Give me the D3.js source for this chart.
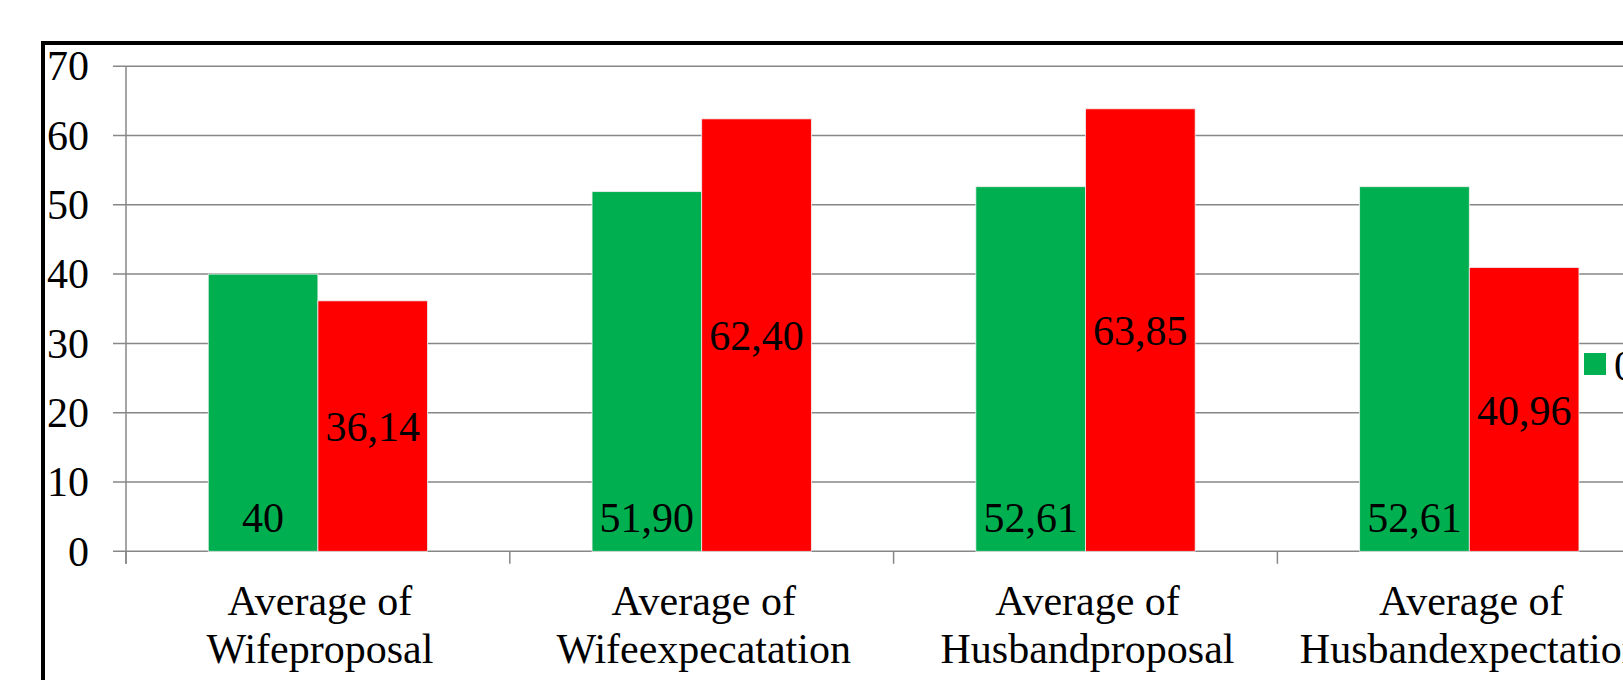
<!DOCTYPE html>
<html>
<head>
<meta charset="utf-8">
<script src="https://cdn.jsdelivr.net/npm/d3@7"></script>
<style>
  html, body { margin: 0; padding: 0; background: #fff; overflow: hidden; }
  svg { display: block; }
  text { font-family: "Liberation Serif", "Times New Roman", serif; fill: #000; }
</style>
</head>
<body>
<svg id="chart" width="1623" height="680"></svg>
<script>
// ---- data ----
const categories = [
  ["Average of", "Wifeproposal"],
  ["Average of", "Wifeexpecatation"],
  ["Average of", "Husbandproposal"],
  ["Average of", "Husbandexpectation"]
];
const seriesNames = ["0", "1"];
const series0 = [40, 51.90, 52.61, 52.61];
const series1 = [36.14, 62.40, 63.85, 40.96];
const series0Labels = ["40", "51,90", "52,61", "52,61"];
const series1Labels = ["36,14", "62,40", "63,85", "40,96"];
const yTicks = [0, 10, 20, 30, 40, 50, 60, 70];
const colors = ["#00B050", "#FF0000"];

// ---- layout ----
const svg = d3.select("#chart");
const W = 1623, H = 680;
const plotLeft = 126, y0px = 551.3, y70px = 66.2;
const step = 383.8;
const FS = 42;

const catIdx = categories.map((d, i) => i);
const x0 = d3.scaleBand().domain(catIdx).range([plotLeft, plotLeft + step * categories.length]).paddingInner(0).paddingOuter(0);
const x1 = d3.scaleBand().domain([0, 1]).range([0, x0.bandwidth()]).paddingInner(0).paddingOuter(0.75);
const y = d3.scaleLinear().domain([0, 70]).range([y0px, y70px]);

// outer border (chart area, cropped)
svg.append("rect")
  .attr("x", 43).attr("y", 43)
  .attr("width", W).attr("height", H)
  .attr("fill", "none").attr("stroke", "#000").attr("stroke-width", 4);

// gridlines
const gridColor = "#878787";
svg.append("g").selectAll("line").data(yTicks).join("line")
  .attr("x1", plotLeft - 13).attr("x2", W)
  .attr("y1", d => y(d)).attr("y2", d => y(d))
  .attr("stroke", gridColor).attr("stroke-width", 1.5);

// y axis line
svg.append("line")
  .attr("x1", plotLeft).attr("x2", plotLeft)
  .attr("y1", y(70)).attr("y2", y(0) + 12.5)
  .attr("stroke", gridColor).attr("stroke-width", 1.5);

// x tick marks at category boundaries
const boundaries = d3.range(categories.length + 1).map(i => plotLeft + i * x0.step());
svg.append("g").selectAll("line").data(boundaries).join("line")
  .attr("x1", d => d).attr("x2", d => d)
  .attr("y1", y(0)).attr("y2", y(0) + 12.5)
  .attr("stroke", gridColor).attr("stroke-width", 1.5);

// y tick labels
svg.append("g").selectAll("text").data(yTicks).join("text")
  .attr("x", 89).attr("y", d => y(d))
  .attr("dy", "0.34em")
  .attr("text-anchor", "end")
  .attr("font-size", FS)
  .text(d => d);

// bars
const seriesData = [series0, series1];
const barG = svg.append("g");
seriesData.forEach((vals, s) => {
  barG.selectAll(null).data(vals).join("rect")
    .attr("x", (d, i) => x0(i) + x1(s))
    .attr("y", d => y(d))
    .attr("width", x1.bandwidth())
    .attr("height", d => y(0) - y(d))
    .attr("fill", colors[s])
    .attr("stroke", "#f0f0f0").attr("stroke-width", 0.8);
});

// data labels: series 0 inside base, series 1 centered
svg.append("g").selectAll("text").data(series0).join("text")
  .attr("x", (d, i) => x0(i) + x1(0) + x1.bandwidth() / 2)
  .attr("y", y(0) - 19.5)
  .attr("text-anchor", "middle")
  .attr("font-size", FS)
  .text((d, i) => series0Labels[i]);

svg.append("g").selectAll("text").data(series1).join("text")
  .attr("x", (d, i) => x0(i) + x1(1) + x1.bandwidth() / 2)
  .attr("y", d => (y(d) + y(0)) / 2 + 1)
  .attr("dy", "0.34em")
  .attr("text-anchor", "middle")
  .attr("font-size", FS)
  .text((d, i) => series1Labels[i]);

// category labels
const catG = svg.append("g");
categories.forEach((lines, i) => {
  const t = catG.append("text")
    .attr("text-anchor", "middle")
    .attr("font-size", FS);
  lines.forEach((ln, k) => {
    t.append("tspan")
      .attr("x", x0(i) + x0.bandwidth() / 2 + 2)
      .attr("y", 615 + k * 48)
      .text(ln);
  });
});

// legend (cropped at right edge)
const legG = svg.append("g");
legG.append("rect")
  .attr("x", 1584).attr("y", 353)
  .attr("width", 22).attr("height", 22)
  .attr("fill", colors[0]);
legG.append("text")
  .attr("x", 1614).attr("y", 380)
  .attr("font-size", FS)
  .text(seriesNames[0]);
</script>
</body>
</html>
